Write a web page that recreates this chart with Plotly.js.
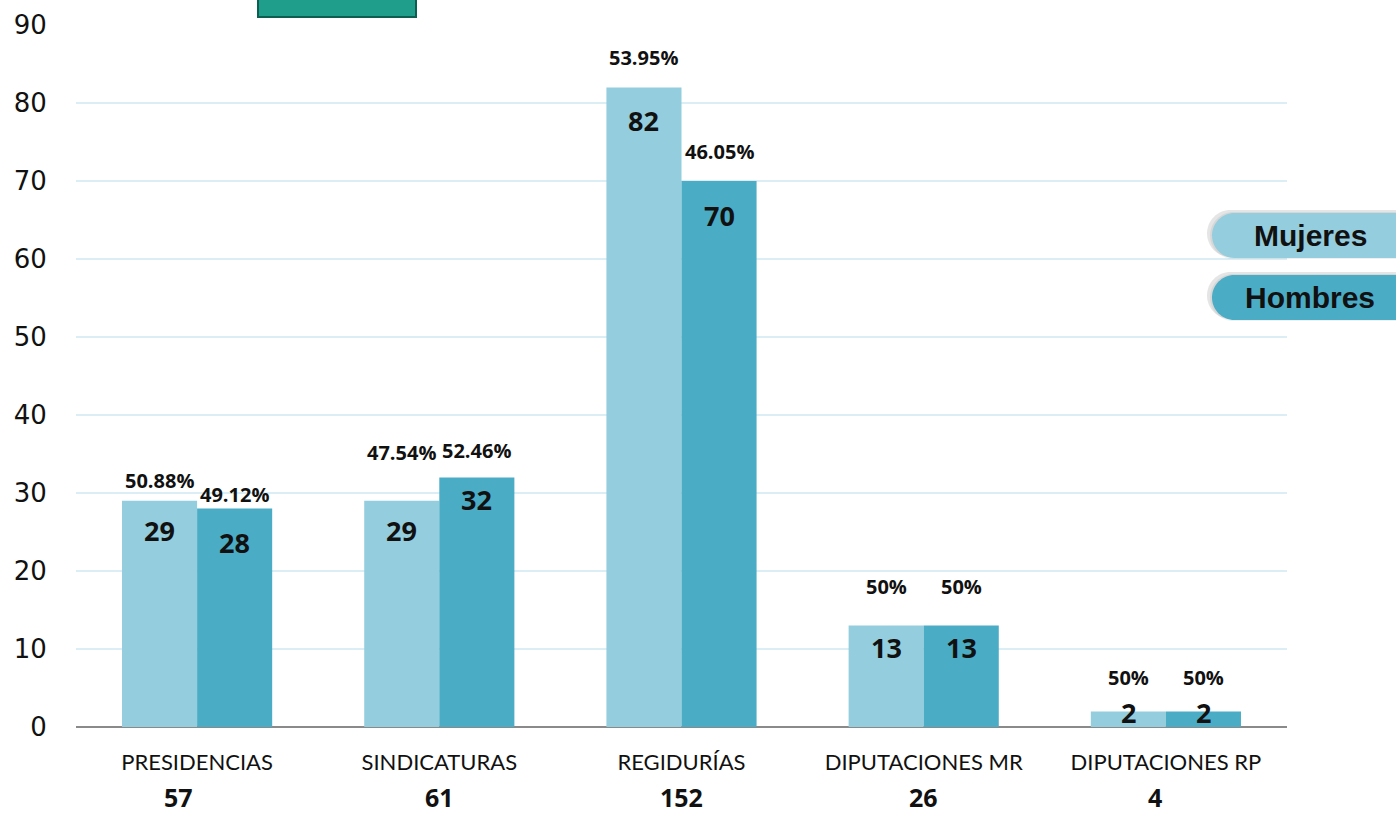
<!DOCTYPE html>
<html>
<head>
<meta charset="utf-8">
<script src="https://cdn.plot.ly/plotly-3.0.1.min.js"></script>
<style>html,body{margin:0;padding:0;background:#fff;}#chart{width:1396px;height:815px;}</style>
</head>
<body>
<div id="chart"></div>
<script>
const categories = ['PRESIDENCIAS', 'SINDICATURAS', 'REGIDURÍAS', 'DIPUTACIONES MR', 'DIPUTACIONES RP'];
const mujeres = [29, 29, 82, 13, 2];
const hombres = [28, 32, 70, 13, 2];
const seriesNames = ['Mujeres', 'Hombres'];
const yTicks = [0, 10, 20, 30, 40, 50, 60, 70, 80, 90];

const colM = '#94CDDD';
const colH = '#4BACC6';

// label placement styling (pixel offsets)
const pctShiftM = [20, 48, 30, 39, 34];
const pctShiftH = [14, 27, 30, 39, 34];
const numShiftM = [30, 30, 33, 22, 1];
const numShiftH = [34, 22, 34, 22, 1];
const totalShift = [-19, 0, 0, 0, -11];

const W = 1396, H = 815;
const M = {l: 76, r: 109, t: 25, b: 88};
const pw = W - M.l - M.r, ph = H - M.t - M.b;
const px = x => (x - M.l) / pw;
const py = y => (H - M.b - y) / ph;

function pct(a, tot) {
  const v = a / tot * 100;
  return (Math.abs(v - Math.round(v)) < 1e-9 ? String(Math.round(v)) : v.toFixed(2)) + '%';
}

const totals = mujeres.map((v, i) => v + hombres[i]);

const traces = [
  {type: 'bar', name: seriesNames[0], x: categories, y: mujeres, marker: {color: colM}, hoverinfo: 'x+y+name'},
  {type: 'bar', name: seriesNames[1], x: categories, y: hombres, marker: {color: colH}, hoverinfo: 'x+y+name'}
];

const bw = pw / categories.length * (1 - 0.38) / 2;
const ann = [];
const BF = 'Open Sans, sans-serif';
const pctFont = {family: BF, size: 20, color: '#111', weight: 700};
const numFont = {family: BF, size: 27, color: '#111', weight: 700};
categories.forEach((c, i) => {
  [[mujeres, -1, pctShiftM, numShiftM], [hombres, 1, pctShiftH, numShiftH]].forEach(([arr, s, ps, ns]) => {
    ann.push({x: c, y: arr[i], xref: 'x', yref: 'y', xshift: s * bw / 2, yshift: ps[i],
      text: pct(arr[i], totals[i]), showarrow: false, yanchor: 'middle', font: pctFont});
    ann.push({x: c, y: arr[i], xref: 'x', yref: 'y', xshift: s * bw / 2, yshift: -ns[i],
      text: String(arr[i]), showarrow: false, yanchor: 'middle', font: numFont});
  });
  ann.push({x: c, y: py(797), xref: 'x', yref: 'paper', xshift: totalShift[i],
    text: String(totals[i]), showarrow: false, yanchor: 'middle', borderpad: 0,
    font: {family: BF, size: 25, color: '#111', weight: 700}});
});

function pill(x0, x1, y0, y1) {
  const r = (y1 - y0) / 2, k = 0.5523;
  const P = (x, y) => px(x) + ',' + py(y);
  return 'M' + P(x0 + r, y0) + ' L' + P(x1, y0) + ' L' + P(x1, y1) + ' L' + P(x0 + r, y1) +
    ' C' + P(x0 + r - k * r, y1) + ' ' + P(x0, y1 - r + k * r) + ' ' + P(x0, y1 - r) +
    ' C' + P(x0, y0 + r - k * r) + ' ' + P(x0 + r - k * r, y0) + ' ' + P(x0 + r, y0) + ' Z';
}

const shapes = [];
const legendItems = [[213, 258, colM], [275, 320, colH]];
legendItems.forEach(([t, b, col], i) => {
  shapes.push({type: 'path', xref: 'paper', yref: 'paper', path: pill(1207, 1430, t - 3, b - 1), fillcolor: 'rgba(0,0,0,0.10)', line: {width: 0}, layer: 'above'});
  shapes.push({type: 'path', xref: 'paper', yref: 'paper', path: pill(1210, 1430, t - 1, b + 1), fillcolor: 'rgba(0,0,0,0.06)', line: {width: 0}, layer: 'above'});
  shapes.push({type: 'path', xref: 'paper', yref: 'paper', path: pill(1212, 1430, t, b), fillcolor: col, line: {width: 0}, layer: 'above'});
  ann.push({x: px(1310), y: py((t + b) / 2), xref: 'paper', yref: 'paper', text: '<b>' + seriesNames[i] + '</b>',
    showarrow: false, xanchor: 'center', yanchor: 'middle',
    font: {family: 'Liberation Sans, Arial, sans-serif', size: 30, color: '#111'}});
});

// logo fragment at top
shapes.push({type: 'rect', xref: 'paper', yref: 'paper', x0: px(258), x1: px(416), y0: py(17), y1: py(-10), fillcolor: '#1f9e8c', line: {color: '#0c5f50', width: 2}, layer: 'above'});

const layout = {
  width: W, height: H,
  margin: M,
  paper_bgcolor: '#fff', plot_bgcolor: '#fff',
  showlegend: false,
  barmode: 'group', bargap: 0.38, bargroupgap: 0,
  xaxis: {type: 'category', showgrid: false, zeroline: false, showline: false,
    ticks: 'outside', ticklen: 16, tickcolor: 'rgba(0,0,0,0)',
    tickfont: {family: 'Lato, sans-serif', size: 22, color: '#111'}},
  yaxis: {range: [0, 90], tickvals: yTicks, showgrid: true, gridcolor: '#DCEEF5', gridwidth: 1.5,
    zeroline: true, zerolinecolor: '#8a8a8a', zerolinewidth: 2, showline: false,
    ticks: 'outside', ticklen: 23, tickcolor: 'rgba(0,0,0,0)',
    tickfont: {family: 'DejaVu Sans, sans-serif', size: 26, color: '#111'}},
  annotations: ann,
  shapes: shapes
};

Plotly.newPlot('chart', traces, layout, {displayModeBar: false, staticPlot: true});
</script>
</body>
</html>
